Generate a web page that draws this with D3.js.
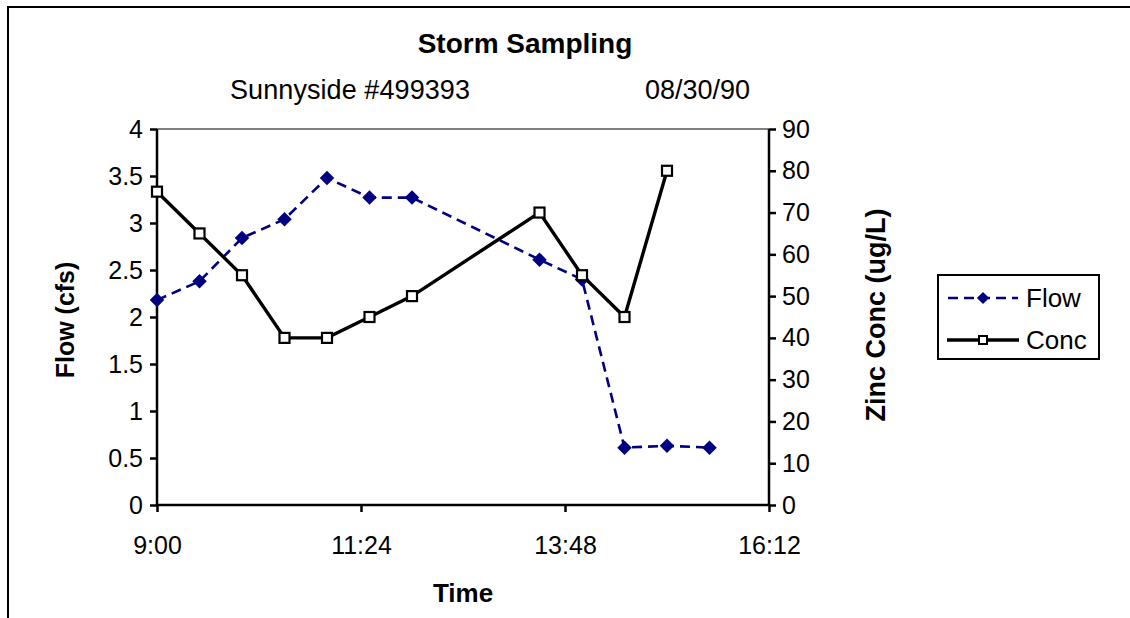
<!DOCTYPE html>
<html><head><meta charset="utf-8">
<script src="https://cdn.jsdelivr.net/npm/d3@7"></script>
<style>
html,body{margin:0;padding:0;background:#fff;}
svg{display:block;font-family:"Liberation Sans",Arial,sans-serif;}
</style></head>
<body>
<svg id="c" width="1130" height="618"></svg>
<script>
const title = "Storm Sampling";
const subtitleLeft = "Sunnyside #499393";
const subtitleRight = "08/30/90";
const flowTimes = ["9:00","9:30","10:00","10:30","11:00","11:30","12:00","13:30","14:00","14:30","15:00","15:30"];
const flowValues = [2.18,2.38,2.84,3.04,3.48,3.27,3.27,2.61,2.40,0.61,0.63,0.61];
const concTimes = ["9:00","9:30","10:00","10:30","11:00","11:30","12:00","13:30","14:00","14:30","15:00"];
const concValues = [75,65,55,40,40,45,50,70,55,45,80];
const xTickLabels = ["9:00","11:24","13:48","16:12"];
const yLeftTicks = [0,0.5,1,1.5,2,2.5,3,3.5,4];
const yRightTicks = [0,10,20,30,40,50,60,70,80,90];
const legendItems = ["Flow","Conc"];

const toMin = s => { const [h,m] = s.split(":").map(Number); return h*60+m; };

const svg = d3.select("#c");
const L = 157, R = 769, T = 129, B = 505;

svg.append("path").attr("d","M8,618 V7 H1130").attr("fill","none").attr("stroke","#000").attr("stroke-width",2);

const x = d3.scaleLinear().domain([toMin("9:00"), toMin("16:12")]).range([L,R]);
const yL = d3.scaleLinear().domain([0,4]).range([B,T]);
const yR = d3.scaleLinear().domain([0,90]).range([B,T]);

svg.append("line").attr("x1",L).attr("x2",R).attr("y1",T).attr("y2",T).attr("stroke","#808080").attr("stroke-width",2);

const fontSize = 25;
const gL = svg.append("g").attr("transform",`translate(${L},0)`)
  .call(d3.axisLeft(yL).tickValues(yLeftTicks).tickSize(7).tickPadding(7).tickFormat(d=>String(d)));
const gR = svg.append("g").attr("transform",`translate(${R},0)`)
  .call(d3.axisRight(yR).tickValues(yRightTicks).tickSize(7).tickPadding(6).tickFormat(d=>String(d)));
const gB = svg.append("g").attr("transform",`translate(0,${B})`)
  .call(d3.axisBottom(x).tickValues(xTickLabels.map(toMin)).tickSize(7).tickPadding(0).tickFormat((d,i)=>xTickLabels[i]));
[gL,gR,gB].forEach(g=>{
  g.attr("font-size",fontSize).attr("font-family","Liberation Sans, Arial, sans-serif");
  g.select(".domain").attr("stroke","#000").attr("stroke-width",2.5);
  g.selectAll(".tick line").attr("stroke","#000").attr("stroke-width",2.5);
  g.selectAll(".tick text").attr("fill","#000");
});
gL.select(".domain").attr("d",`M0,${T}V${B}`);
gR.select(".domain").attr("d",`M0,${T}V${B}`);
gB.select(".domain").attr("d",`M${L},0H${R}`);
gB.selectAll(".tick text").attr("y",49).attr("dy",null);

const flowData = flowTimes.map((t,i)=>({t:toMin(t), v:flowValues[i]}));
const concData = concTimes.map((t,i)=>({t:toMin(t), v:concValues[i]}));

svg.append("path").datum(flowData)
  .attr("d", d3.line().x(d=>x(d.t)).y(d=>yL(d.v)))
  .attr("fill","none").attr("stroke","#000080").attr("stroke-width",2.6).attr("stroke-dasharray","10,6");

svg.append("path").datum(concData)
  .attr("d", d3.line().x(d=>x(d.t)).y(d=>yR(d.v)))
  .attr("fill","none").attr("stroke","#000").attr("stroke-width",3.4);

svg.append("g").selectAll("path").data(flowData).join("path")
  .attr("transform",d=>`translate(${x(d.t)},${yL(d.v)}) rotate(45)`)
  .attr("d", d3.symbol().type(d3.symbolSquare).size(105))
  .attr("fill","#000080");

svg.append("g").selectAll("rect").data(concData).join("rect")
  .attr("x",d=>x(d.t)-5).attr("y",d=>yR(d.v)-5).attr("width",10).attr("height",10)
  .attr("fill","#fff").attr("stroke","#000").attr("stroke-width",2.2);

svg.append("text").attr("x",525).attr("y",53).attr("text-anchor","middle")
  .attr("font-size",28).attr("font-weight","bold").text(title);
svg.append("text").attr("x",230).attr("y",99).attr("font-size",27).attr("textLength",240).text(subtitleLeft);
svg.append("text").attr("x",645).attr("y",99).attr("font-size",27).text(subtitleRight);

svg.append("text").attr("transform","translate(74,320) rotate(-90)").attr("text-anchor","middle")
  .attr("font-size",25).attr("font-weight","bold").text("Flow (cfs)");
svg.append("text").attr("transform","translate(885,315) rotate(-90)").attr("text-anchor","middle")
  .attr("font-size",27).attr("font-weight","bold").text("Zinc Conc (ug/L)");
svg.append("text").attr("x",463).attr("y",602).attr("text-anchor","middle")
  .attr("font-size",26).attr("font-weight","bold").text("Time");

const lg = svg.append("g");
lg.append("rect").attr("x",938).attr("y",275).attr("width",161).attr("height",84)
  .attr("fill","#fff").attr("stroke","#000").attr("stroke-width",2);
lg.append("line").attr("x1",948).attr("x2",1018).attr("y1",298).attr("y2",298)
  .attr("stroke","#000080").attr("stroke-width",2.6).attr("stroke-dasharray","10,6");
lg.append("path").attr("transform","translate(983,298) rotate(45)")
  .attr("d", d3.symbol().type(d3.symbolSquare).size(75)).attr("fill","#000080");
lg.append("line").attr("x1",947).attr("x2",1019).attr("y1",340).attr("y2",340)
  .attr("stroke","#000").attr("stroke-width",3.4);
lg.append("rect").attr("x",979).attr("y",336).attr("width",8).attr("height",8)
  .attr("fill","#fff").attr("stroke","#000").attr("stroke-width",2);
lg.append("text").attr("x",1026).attr("y",307).attr("font-size",26).text(legendItems[0]);
lg.append("text").attr("x",1026).attr("y",349).attr("font-size",26).text(legendItems[1]);
</script>
</body></html>
